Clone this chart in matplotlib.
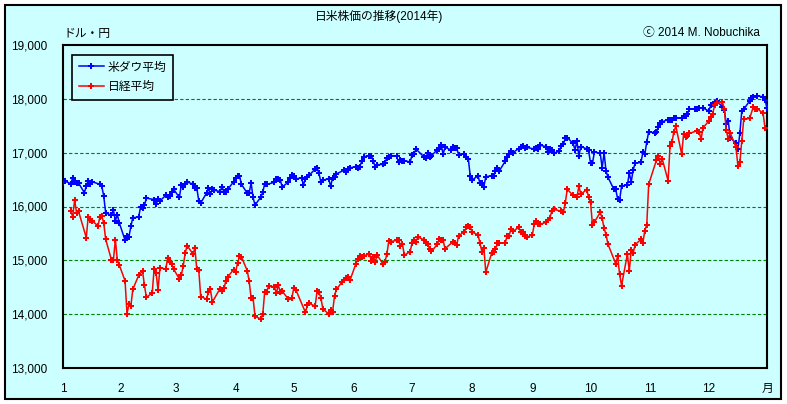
# -*- coding: utf-8 -*-
"""日米株価の推移 (2014年): NYダウと日経平均の日次終値。"""

import pandas as pd
import matplotlib
matplotlib.use("Agg")
import matplotlib.pyplot as plt
from matplotlib.patches import Rectangle

plt.rcParams["font.family"] = ["Liberation Sans", "Noto Sans CJK JP", "DejaVu Sans"]

# =========================================================================
# データ (終値, 2014年)
# =========================================================================

DOW_DATES = [
    "01-02", "01-03", "01-06", "01-07", "01-08", "01-09", "01-10", "01-13", "01-14", "01-15", "01-16",
    "01-17", "01-21", "01-22", "01-23", "01-24", "01-27", "01-28", "01-29", "01-30", "01-31",
    "02-03", "02-04", "02-05", "02-06", "02-07", "02-10", "02-11", "02-12", "02-13", "02-14",
    "02-18", "02-19", "02-20", "02-21", "02-24", "02-25", "02-26", "02-27", "02-28",
    "03-03", "03-04", "03-05", "03-06", "03-07", "03-10", "03-11", "03-12", "03-13", "03-14",
    "03-17", "03-18", "03-19", "03-20", "03-21", "03-24", "03-25", "03-26", "03-27", "03-28", "03-31",
    "04-01", "04-02", "04-03", "04-04", "04-07", "04-08", "04-09", "04-10", "04-11", "04-14",
    "04-15", "04-16", "04-17", "04-21", "04-22", "04-23", "04-24", "04-25", "04-28", "04-29", "04-30",
    "05-01", "05-02", "05-05", "05-06", "05-07", "05-08", "05-09", "05-12", "05-13", "05-14",
    "05-15", "05-16", "05-19", "05-20", "05-21", "05-22", "05-23", "05-27", "05-28", "05-29", "05-30",
    "06-02", "06-03", "06-04", "06-05", "06-06", "06-09", "06-10", "06-11", "06-12", "06-13",
    "06-16", "06-17", "06-18", "06-19", "06-20", "06-23", "06-24", "06-25", "06-26", "06-27", "06-30",
    "07-01", "07-02", "07-03", "07-07", "07-08", "07-09", "07-10", "07-11", "07-14", "07-15", "07-16",
    "07-17", "07-18", "07-21", "07-22", "07-23", "07-24", "07-25", "07-28", "07-29", "07-30", "07-31",
    "08-01", "08-04", "08-05", "08-06", "08-07", "08-08", "08-11", "08-12", "08-13", "08-14",
    "08-15", "08-18", "08-19", "08-20", "08-21", "08-22", "08-25", "08-26", "08-27", "08-28", "08-29",
    "09-02", "09-03", "09-04", "09-05", "09-08", "09-09", "09-10", "09-11", "09-12", "09-15",
    "09-16", "09-17", "09-18", "09-19", "09-22", "09-23", "09-24", "09-25", "09-26", "09-29", "09-30",
    "10-01", "10-02", "10-03", "10-06", "10-07", "10-08", "10-09", "10-10", "10-13", "10-14", "10-15",
    "10-16", "10-17", "10-20", "10-21", "10-22", "10-23", "10-24", "10-27", "10-28", "10-29", "10-30", "10-31",
    "11-03", "11-04", "11-05", "11-06", "11-07", "11-10", "11-11", "11-12", "11-13", "11-14",
    "11-17", "11-18", "11-19", "11-20", "11-21", "11-24", "11-25", "11-26", "11-28",
    "12-01", "12-02", "12-03", "12-04", "12-05", "12-08", "12-09", "12-10", "12-11", "12-12", "12-15",
    "12-16", "12-17", "12-18", "12-19", "12-22", "12-23", "12-24", "12-26", "12-29", "12-30", "12-31",
]
DOW_CLOSE = [
    16441, 16470, 16425, 16531, 16463, 16445, 16437, 16258, 16374, 16482, 16417,
    16459, 16414, 16373, 16197, 15879, 15838, 15929, 15739, 15849, 15699,
    15373, 15445, 15441, 15629, 15794, 15801, 15994, 15964, 16027, 16154,
    16130, 16041, 16134, 16104, 16208, 16180, 16198, 16273, 16322,
    16168, 16396, 16361, 16422, 16453, 16419, 16352, 16340, 16109, 16066,
    16248, 16337, 16223, 16332, 16303, 16277, 16368, 16268, 16264, 16324, 16458,
    16533, 16573, 16573, 16413, 16246, 16256, 16438, 16171, 16027, 16174,
    16263, 16425, 16409, 16449, 16514, 16502, 16501, 16361, 16449, 16535, 16581,
    16559, 16513, 16530, 16402, 16518, 16551, 16583, 16695, 16716, 16614,
    16447, 16492, 16511, 16375, 16533, 16543, 16606, 16676, 16634, 16699, 16717,
    16743, 16722, 16737, 16837, 16924, 16943, 16945, 16844, 16735, 16776,
    16782, 16809, 16907, 16921, 16947, 16938, 16819, 16868, 16846, 16852, 16827,
    16957, 16976, 17068, 16924, 16906, 16986, 16915, 16944, 17055, 17061, 17138,
    16977, 17100, 17052, 17114, 17087, 17083, 16961, 16983, 16913, 16881, 16563,
    16493, 16570, 16430, 16443, 16368, 16554, 16570, 16561, 16652, 16713,
    16663, 16839, 16919, 16979, 17040, 17001, 17077, 17107, 17123, 17080, 17098,
    17068, 17079, 17070, 17138, 17112, 17014, 17068, 17050, 16988, 17032,
    17132, 17157, 17266, 17280, 17173, 17056, 17211, 16946, 17114, 17071, 17043,
    16805, 16802, 17010, 16992, 16720, 16995, 16660, 16544, 16321, 16316, 16142,
    16118, 16380, 16400, 16615, 16462, 16678, 16805, 16818, 17006, 16975, 17196, 17391,
    17367, 17384, 17485, 17555, 17574, 17614, 17615, 17613, 17653, 17635,
    17648, 17688, 17686, 17720, 17810, 17818, 17815, 17828, 17828,
    17777, 17880, 17913, 17901, 17959, 17853, 17801, 17533, 17597, 17281, 17180,
    17068, 17357, 17778, 17805, 17959, 18024, 18030, 18053, 18038, 17983, 17823,
]

NIKKEI_DATES = [
    "01-06", "01-07", "01-08", "01-09", "01-10", "01-14", "01-15", "01-16", "01-17", "01-20",
    "01-21", "01-22", "01-23", "01-24", "01-27", "01-28", "01-29", "01-30", "01-31",
    "02-03", "02-04", "02-05", "02-06", "02-07", "02-10", "02-12", "02-13", "02-14", "02-17",
    "02-18", "02-19", "02-20", "02-21", "02-24", "02-25", "02-26", "02-27", "02-28",
    "03-03", "03-04", "03-05", "03-06", "03-07", "03-10", "03-11", "03-12", "03-13", "03-14",
    "03-17", "03-18", "03-19", "03-20", "03-24", "03-25", "03-26", "03-27", "03-28", "03-31",
    "04-01", "04-02", "04-03", "04-04", "04-07", "04-08", "04-09", "04-10", "04-11", "04-14",
    "04-15", "04-16", "04-17", "04-18", "04-21", "04-22", "04-23", "04-24", "04-25", "04-28", "04-30",
    "05-01", "05-02", "05-07", "05-08", "05-09", "05-12", "05-13", "05-14", "05-15", "05-16",
    "05-19", "05-20", "05-21", "05-22", "05-23", "05-26", "05-27", "05-28", "05-29", "05-30",
    "06-02", "06-03", "06-04", "06-05", "06-06", "06-09", "06-10", "06-11", "06-12", "06-13",
    "06-16", "06-17", "06-18", "06-19", "06-20", "06-23", "06-24", "06-25", "06-26", "06-27", "06-30",
    "07-01", "07-02", "07-03", "07-04", "07-07", "07-08", "07-09", "07-10", "07-11", "07-14", "07-15",
    "07-16", "07-17", "07-18", "07-22", "07-23", "07-24", "07-25", "07-28", "07-29", "07-30", "07-31",
    "08-01", "08-04", "08-05", "08-06", "08-07", "08-08", "08-11", "08-12", "08-13", "08-14",
    "08-15", "08-18", "08-19", "08-20", "08-21", "08-22", "08-25", "08-26", "08-27", "08-28", "08-29",
    "09-01", "09-02", "09-03", "09-04", "09-05", "09-08", "09-09", "09-10", "09-11", "09-12",
    "09-16", "09-17", "09-18", "09-19", "09-22", "09-24", "09-25", "09-26", "09-29", "09-30",
    "10-01", "10-02", "10-03", "10-06", "10-07", "10-08", "10-09", "10-10", "10-14", "10-15", "10-16",
    "10-17", "10-20", "10-21", "10-22", "10-23", "10-24", "10-27", "10-28", "10-29", "10-30", "10-31",
    "11-04", "11-05", "11-06", "11-07", "11-10", "11-11", "11-12", "11-13", "11-14",
    "11-17", "11-18", "11-19", "11-20", "11-21", "11-25", "11-26", "11-27", "11-28",
    "12-01", "12-02", "12-03", "12-04", "12-05", "12-08", "12-09", "12-10", "12-11", "12-12", "12-15",
    "12-16", "12-17", "12-18", "12-19", "12-22", "12-24", "12-25", "12-26", "12-29", "12-30",
]
NIKKEI_CLOSE = [
    15909, 15814, 16121, 15880, 15912, 15422, 15809, 15747, 15734, 15641,
    15796, 15821, 15695, 15391, 15006, 15010, 15384, 15007, 14915,
    14619, 14009, 14180, 14155, 14463, 14719, 14801, 14535, 14313, 14394,
    14843, 14767, 14450, 14866, 14838, 15052, 14970, 14924, 14841,
    14653, 14722, 14898, 15135, 15274, 15120, 15224, 14830, 14816, 14328,
    14278, 14412, 14463, 14225, 14476, 14423, 14477, 14622, 14696, 14828,
    14792, 14946, 15072, 15063, 14809, 14607, 14300, 14300, 13960, 13910,
    13996, 14418, 14417, 14516, 14512, 14388, 14547, 14404, 14429, 14288, 14304,
    14485, 14458, 14033, 14163, 14200, 14149, 14426, 14405, 14298, 14097,
    14006, 14075, 14043, 14338, 14462, 14602, 14637, 14670, 14682, 14632,
    14935, 15034, 15074, 15069, 15077, 15124, 14994, 15069, 14973, 15097,
    14933, 14975, 15115, 15362, 15349, 15369, 15376, 15267, 15309, 15095, 15162,
    15326, 15369, 15348, 15437, 15380, 15314, 15302, 15216, 15165, 15297, 15395,
    15379, 15371, 15215, 15344, 15329, 15285, 15458, 15530, 15618, 15647, 15621,
    15523, 15475, 15320, 15160, 15232, 14778, 15130, 15161, 15213, 15315,
    15318, 15322, 15450, 15454, 15587, 15539, 15614, 15521, 15535, 15459, 15425,
    15476, 15669, 15728, 15677, 15668, 15706, 15750, 15789, 15909, 15948,
    15911, 15889, 16068, 16321, 16206, 16168, 16375, 16229, 16311, 16174,
    16083, 15662, 15709, 15891, 15784, 15595, 15479, 15300, 14937, 15074, 14738,
    14532, 15112, 14805, 15196, 15139, 15291, 15389, 15330, 15554, 15659, 16414,
    16862, 16937, 16792, 16880, 16480, 17124, 17197, 17393, 17491,
    16974, 17344, 17288, 17301, 17358, 17407, 17383, 17249, 17460,
    17590, 17664, 17721, 17888, 17921, 17935, 17814, 17413, 17257, 17371, 17100,
    16756, 16820, 17211, 17621, 17635, 17854, 17819, 17818, 17730, 17451,
]

MONTH_LABELS = ["1", "2", "3", "4", "5", "6", "7", "8", "9", "10", "11", "12", "月"]
Y_TICKS = [13000, 14000, 15000, 16000, 17000, 18000, 19000]
GRID_LEVELS = [14000, 15000, 16000, 17000, 18000]

BG_COLOR = "#CCFFFF"
W_PX, H_PX = 787, 404


def to_day(dates):
    """'MM-DD' -> 1月1日からの経過日数。"""
    return [pd.Timestamp("2014-" + d).dayofyear - 1 for d in dates]


def main():
    fig = plt.figure(figsize=(W_PX / 100, H_PX / 100), dpi=100)
    fig.patch.set_facecolor("white")

    # 外枠 (軸より下に描く)
    frame = Rectangle(
        (5 / W_PX, 5 / H_PX), 776 / W_PX, 394 / H_PX, transform=fig.transFigure,
        facecolor=BG_COLOR, edgecolor="black", linewidth=1.5, zorder=-10)
    fig.add_artist(frame)

    ax = fig.add_axes([63 / W_PX, 36 / H_PX, 704 / W_PX, 323 / H_PX])
    ax.set_zorder(1)
    ax.set_facecolor(BG_COLOR)
    for sp in ax.spines.values():
        sp.set_linewidth(1.5)
        sp.set_color("black")

    for lv in GRID_LEVELS:
        ax.axhline(lv, color="#008000", linewidth=0.8, linestyle=(0, (3, 2)), zorder=1)

    ax.plot(to_day(DOW_DATES), DOW_CLOSE, color="#0000FF", linewidth=1.1,
            marker="P", markersize=5, markeredgewidth=0, label="米ダウ平均", zorder=3)
    ax.plot(to_day(NIKKEI_DATES), NIKKEI_CLOSE, color="#FF0000", linewidth=1.1,
            marker="P", markersize=5, markeredgewidth=0, label="日経平均", zorder=3)

    ax.set_xlim(1, 364)
    ax.set_ylim(13000, 19000)

    month_pos = [max(pd.Timestamp(2014, m, 1).dayofyear - 1, 1) for m in range(1, 13)] + [364]
    ax.set_xticks(month_pos)
    ax.set_xticklabels(MONTH_LABELS, fontsize=8.5)
    ax.set_yticks(Y_TICKS)
    ax.set_yticklabels([f"{v:,}" for v in Y_TICKS], fontsize=8.5)
    ax.tick_params(axis="x", length=0, pad=11)
    ax.tick_params(axis="y", length=0, pad=11.5)

    leg = ax.legend(loc="upper left", bbox_to_anchor=(0.0128, 0.969), fontsize=8.5,
                    frameon=True, fancybox=False, edgecolor="black", facecolor=BG_COLOR,
                    framealpha=1, handlelength=2.2, borderpad=0.55, labelspacing=0.65,
                    handletextpad=0.3, borderaxespad=0)
    leg.get_frame().set_linewidth(1.2)

    fig.text(379 / W_PX, 1 - 16 / H_PX, "日米株価の推移(2014年)", fontsize=8.5,
             ha="center", va="center")
    fig.text(63 / W_PX, 1 - 34 / H_PX, "ドル・円", fontsize=8.5, ha="left", va="center")
    fig.text(760 / W_PX, 1 - 33 / H_PX, "ⓒ 2014 M. Nobuchika", fontsize=8.5,
             ha="right", va="center")

    fig.savefig("out.png", dpi=100)
    plt.close(fig)


if __name__ == "__main__":
    main()
